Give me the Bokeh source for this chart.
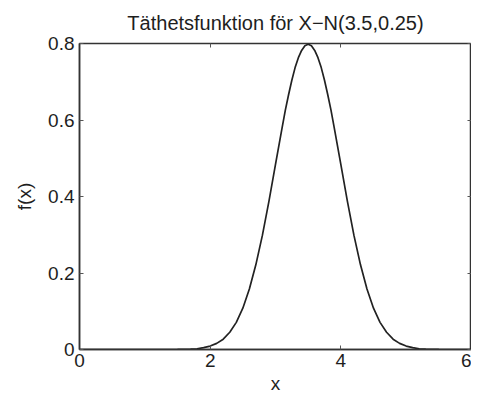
from bokeh.plotting import figure
from bokeh.models import Range1d, LinearAxis, FixedTicker
from bokeh.embed import file_html
from bokeh.resources import INLINE

# values (density curve)
x_vals = [0.0, 1.0, 1.5, 1.6, 1.7, 1.8, 1.9, 2.0, 2.1, 2.2, 2.3, 2.4, 2.5, 2.6, 2.7, 2.8,
          2.9, 3.0, 3.1, 3.15, 3.2, 3.25, 3.3, 3.35, 3.4, 3.45, 3.5, 3.55, 3.6, 3.65, 3.7,
          3.75, 3.8, 3.85, 3.9, 4.0, 4.1, 4.2, 4.3, 4.4, 4.5, 4.6, 4.7, 4.8, 4.9, 5.0,
          5.1, 5.2, 5.3, 5.4, 5.5, 6.0]
y_vals = [0.0, 0.0, 0.0003, 0.0006, 0.001, 0.002, 0.005, 0.009, 0.016, 0.027, 0.045, 0.071,
          0.108, 0.158, 0.222, 0.299, 0.388, 0.484, 0.579, 0.625, 0.666, 0.704, 0.737, 0.763,
          0.782, 0.794, 0.798, 0.794, 0.782, 0.763, 0.737, 0.704, 0.666, 0.625, 0.579, 0.484,
          0.388, 0.299, 0.222, 0.158, 0.108, 0.071, 0.045, 0.027, 0.016, 0.009, 0.005, 0.002,
          0.001, 0.0006, 0.0003, 0.0]
x_ticks = [0, 2, 4, 6]
y_ticks = [0, 0.2, 0.4, 0.6, 0.8]
title_text = "Täthetsfunktion för X\u2212N(3.5,0.25)"

FONT = "Liberation Sans"
INK = "#1e1e1e"

p = figure(width=471, height=398, output_backend="svg", toolbar_location=None,
           x_range=Range1d(0, 6), y_range=Range1d(0, 0.8),
           min_border_left=79, min_border_right=0, min_border_top=43, min_border_bottom=49,
           title=title_text)
p.title.align = "center"
p.title.text_font = FONT
p.title.text_font_size = "20px"
p.title.text_font_style = "normal"
p.title.text_color = INK
p.title.standoff = 19

p.line(x_vals, y_vals, line_color="#222222", line_width=1.7)

p.grid.visible = False
p.outline_line_color = "#333333"
p.outline_line_width = 1.5
p.background_fill_color = "white"

for ax in [p.xaxis[0], p.yaxis[0]]:
    ax.major_tick_in = 4
    ax.major_tick_out = 0
    ax.minor_tick_line_color = None
    ax.axis_line_color = "#333333"
    ax.axis_line_width = 1.5
    ax.major_tick_line_color = "#555555"
    ax.major_label_text_font = FONT
    ax.major_label_text_font_size = "19px"
    ax.major_label_text_color = INK
    ax.axis_label_text_font = FONT
    ax.axis_label_text_font_size = "19px"
    ax.axis_label_text_font_style = "normal"
    ax.axis_label_text_color = INK

p.xaxis[0].ticker = FixedTicker(ticks=x_ticks)
p.yaxis[0].ticker = FixedTicker(ticks=y_ticks)
p.xaxis[0].axis_label = "x"
p.yaxis[0].axis_label = "f(x)"
p.xaxis[0].major_label_standoff = 4
p.xaxis[0].axis_label_standoff = 3
p.yaxis[0].major_label_standoff = 5
p.yaxis[0].axis_label_standoff = 10

# tick marks only on the top and right edges (no labels)
top = LinearAxis(ticker=FixedTicker(ticks=[], minor_ticks=x_ticks),
                 minor_tick_in=4, minor_tick_out=0, major_tick_line_color=None,
                 axis_line_color=None, minor_tick_line_color="#555555")
right = LinearAxis(ticker=FixedTicker(ticks=[], minor_ticks=y_ticks),
                   minor_tick_in=4, minor_tick_out=0, major_tick_line_color=None,
                   axis_line_color=None, minor_tick_line_color="#555555")
p.add_layout(top, "above")
p.add_layout(right, "right")

open("out.html", "w").write(file_html(p, INLINE))
